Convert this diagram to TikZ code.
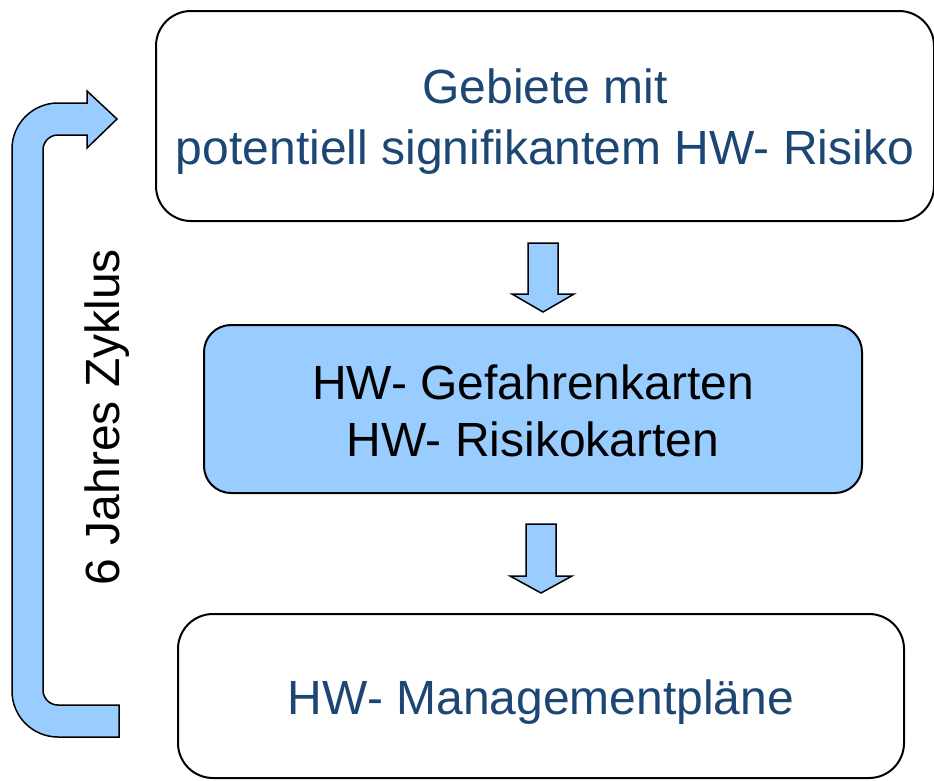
\documentclass[tikz,border=0pt]{standalone}
\usepackage{fontspec}
\setmainfont{Liberation Sans}
\definecolor{txtblue}{RGB}{28,70,116}
\definecolor{fillblue}{RGB}{153,204,255}
\begin{document}
\begin{tikzpicture}[x=1pt,y=-1pt,
  box/.style={draw=black, line width=2pt, rounded corners=#1, inner sep=0pt},
  label/.style={align=center, font=\fontsize{48}{61}\selectfont, inner sep=0pt},
  blockarrow/.style={draw=black, line width=1.5pt, fill=fillblue, line join=miter}]
\useasboundingbox (0,0) rectangle (934,780);
% boxes
\node[box=35pt, minimum width=778pt, minimum height=210pt] (b1) at (545,116) {};
\node[label, text=txtblue] (b1t) at ([yshift=-6pt]b1.center)
  {Gebiete mit\\potentiell signifikantem HW- Risiko};
\node[box=27pt, minimum width=658pt, minimum height=168pt, fill=fillblue] (b2) at (533,409) {};
\node[label, text=black, font=\fontsize{48}{57}\selectfont] (b2t) at ([yshift=-2pt]b2.center)
  {HW- Gefahrenkarten\\HW- Risikokarten};
\node[box=35pt, minimum width=726pt, minimum height=164pt] (b3) at (541,696) {};
\node[label, text=txtblue] (b3t) at ([yshift=-6pt]b3.center) {HW- Managementpläne};
% down arrows
\draw[blockarrow] (528,243) -- (558,243) -- (558,294) -- (574,294) -- (543,312)
  -- (512,294) -- (528,294) -- cycle;
\draw[blockarrow] (526,524) -- (556,524) -- (556,576) -- (572,576) -- (541,593)
  -- (510,576) -- (526,576) -- cycle;
% cycle arrow
\draw[blockarrow] (117,119) -- (87,148) -- (87,135) -- (58,135)
  .. controls (49.7,135) and (43,141.7) .. (43,150) -- (43,690)
  .. controls (43,698.3) and (49.7,705) .. (58,705) -- (119,705) -- (119,737) -- (58,737)
  .. controls (32.6,737) and (12,716.4) .. (12,691) -- (12,149)
  .. controls (12,123.6) and (32.6,103) .. (58,103) -- (87,103) -- (87,91) -- cycle;
\node[rotate=90, font=\fontsize{48}{58}\selectfont, inner sep=0pt] (cyc) at (107,417) {6 Jahres Zyklus};
\end{tikzpicture}
\end{document}
